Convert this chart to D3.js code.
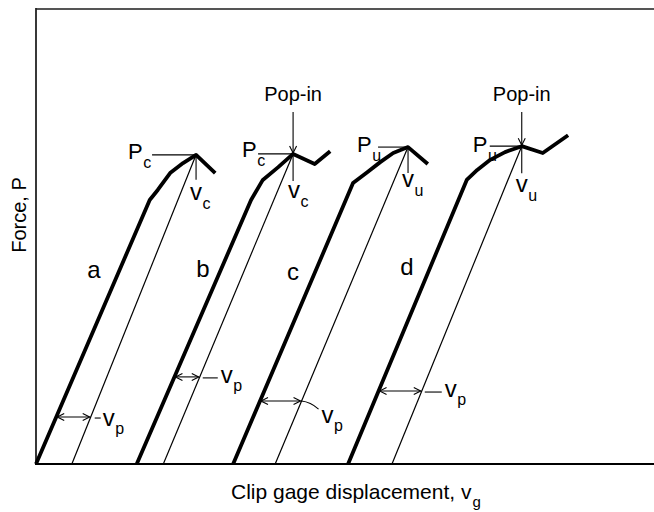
<!DOCTYPE html>
<html>
<head>
<meta charset="utf-8">
<script src="https://cdn.jsdelivr.net/npm/d3@7"></script>
<style>
  body { margin: 0; background: #fff; }
  text { font-family: Arial, "Liberation Sans", sans-serif; fill: #000; }
</style>
</head>
<body>
<div id="chart"></div>
<script>

// record curves a-d, in arbitrary units (x: 0-100, y: 0-100)
var curveNames = ["a", "b", "c", "d"];

var xA = [0, 18.4, 19.7, 21.7, 23.8, 25.9, 29.0];
var yA = [0, 57.9, 60.1, 63.8, 66.0, 67.8, 63.8];

var xB = [16.3, 34.8, 36.7, 39.2, 41.6, 45.1, 47.6];
var yB = [0, 57.9, 62.3, 65.1, 68.0, 65.8, 68.6];

var xC = [31.9, 51.3, 53.6, 55.7, 57.8, 60.2, 63.4];
var yC = [0, 61.6, 64.0, 66.2, 68.2, 69.5, 65.8];

var xD = [50.5, 69.7, 71.4, 73.5, 75.9, 78.6, 82.0, 86.1];
var yD = [0, 62.3, 64.5, 66.7, 68.4, 69.7, 68.2, 72.1];

// which point is the max force, where the unloading line meets zero force
var peakIndex = [5, 4, 5, 5];
var unloadFoot = [5.8, 20.6, 38.7, 57.6];

// force level of the plastic displacement arrows
var vpLevel = [10.3, 19.1, 13.8, 16.0];

var forceSub = ["c", "c", "u", "u"];
var popIn = [false, true, false, true];

var xLabel = "Clip gage displacement, v";
var xLabelSub = "g";
var yLabel = "Force, P";

// chart properties
var width = 654, height = 512;
var plot = { left: 36, right: 654, top: 8, bottom: 464 };

// label offsets from the peak / arrow end (pixels)
var peakLayout = [
    { pdx: -68, pdy: 4, ldx: -44, vdx: -6, vdy: 45, vlen: 25 },
    { pdx: -51, pdy: 3, ldx: -35, vdx: -5, vdy: 44, vlen: 27 },
    { pdx: -51, pdy: 5, ldx: -30, vdx: -6, vdy: 40, vlen: 26 },
    { pdx: -49, pdy: 6, ldx: -32, vdx: -6, vdy: 46, vlen: 27 }
];
var vpLayout = [
    { d0: 4, d1: 10, tx: 12, ty: 9, curved: false },
    { d0: 3, d1: 18, tx: 21, ty: 6, curved: false },
    { d0: 0, d1: 0, tx: 20, ty: 22, curved: true },
    { d0: 3, d1: 20, tx: 23, ty: 6, curved: false }
];
var letterPos = [ { x: 94, y: 278 }, { x: 203, y: 277 }, { x: 293, y: 280 }, { x: 407, y: 275 } ];

var xScale = d3.scaleLinear().domain([0, 100]).range([plot.left, plot.right]);
var yScale = d3.scaleLinear().domain([0, 100]).range([plot.bottom, plot.top]);

var svg = d3.select("#chart").append("svg")
    .attr("width", width)
    .attr("height", height);

var defs = svg.append("defs");
defs.append("marker")
    .attr("id", "head")
    .attr("viewBox", "-9 -5 10 10")
    .attr("refX", 0)
    .attr("refY", 0)
    .attr("markerWidth", 10)
    .attr("markerHeight", 10)
    .attr("markerUnits", "userSpaceOnUse")
    .attr("orient", "auto-start-reverse")
    .append("path")
    .attr("d", "M-7,-3.5L0,0L-7,3.5")
    .attr("fill", "none")
    .attr("stroke", "#000")
    .attr("stroke-width", 1.1);

// frame: left, top, bottom (no right edge)
svg.append("line")
    .attr("x1", plot.left).attr("x2", plot.right)
    .attr("y1", plot.top + 1).attr("y2", plot.top + 1)
    .attr("stroke", "#555").attr("stroke-width", 2);
svg.append("line")
    .attr("x1", plot.left).attr("x2", plot.left)
    .attr("y1", plot.top).attr("y2", plot.bottom)
    .attr("stroke", "#222").attr("stroke-width", 1.8);
svg.append("line")
    .attr("x1", plot.left - 1).attr("x2", plot.right)
    .attr("y1", plot.bottom).attr("y2", plot.bottom)
    .attr("stroke", "#000").attr("stroke-width", 1.8);

var lineGen = d3.line()
    .x(function(d) { return xScale(d[0]); })
    .y(function(d) { return yScale(d[1]); });

var curves = [[xA, yA], [xB, yB], [xC, yC], [xD, yD]].map(function(c) {
    return d3.zip(c[0], c[1]);
});

// x where a segment p->q reaches force level f
function atLevel(p, q, f) {
    return p[0] + (q[0] - p[0]) * (f - p[1]) / (q[1] - p[1]);
}

function subText(g, x, y, main, sub, size, subSize, subDy) {
    var t = g.append("text")
        .attr("x", x)
        .attr("y", y)
        .style("font-size", size + "px");
    t.append("tspan").text(main);
    t.append("tspan")
        .attr("dy", subDy)
        .attr("dx", 0.5)
        .style("font-size", subSize + "px")
        .text(sub);
    return t;
}

curves.forEach(function(pts, i) {
    var g = svg.append("g");
    var peak = pts[peakIndex[i]];
    var px = xScale(peak[0]), py = yScale(peak[1]);
    var foot = [unloadFoot[i], 0];
    var lay = peakLayout[i];

    // unloading line
    g.append("path")
        .attr("d", lineGen([foot, peak]))
        .attr("stroke", "#000")
        .attr("stroke-width", 1.2)
        .attr("fill", "none");

    // test record
    g.append("path")
        .attr("d", lineGen(pts))
        .attr("stroke", "#000")
        .attr("stroke-width", 3.8)
        .attr("stroke-linejoin", "round")
        .attr("fill", "none");

    // force marker
    g.append("line")
        .attr("x1", px + lay.ldx).attr("x2", px)
        .attr("y1", py).attr("y2", py)
        .attr("stroke", "#000").attr("stroke-width", 1.1);
    subText(g, px + lay.pdx, py + lay.pdy, "P", forceSub[i], 22, 16, 9);

    // displacement marker
    g.append("line")
        .attr("x1", px).attr("x2", px)
        .attr("y1", py).attr("y2", py + lay.vlen)
        .attr("stroke", "#000").attr("stroke-width", 1.1);
    subText(g, px + lay.vdx, py + lay.vdy, "v", forceSub[i], 24, 16, 9);

    // pop-in
    if (popIn[i]) {
        g.append("line")
            .attr("x1", px).attr("x2", px)
            .attr("y1", 112).attr("y2", py - 1)
            .attr("stroke", "#000").attr("stroke-width", 1.1)
            .attr("marker-end", "url(#head)");
        g.append("text")
            .attr("x", px)
            .attr("y", 101)
            .attr("text-anchor", "middle")
            .style("font-size", "20px")
            .text("Pop-in");
    }

    // curve letter
    g.append("text")
        .attr("x", letterPos[i].x)
        .attr("y", letterPos[i].y)
        .attr("text-anchor", "middle")
        .style("font-size", "24px")
        .text(curveNames[i]);

    // plastic displacement arrow
    var f = vpLevel[i];
    var xl = xScale(atLevel(pts[0], pts[1], f));
    var xr = xScale(atLevel(foot, peak, f));
    var ya = yScale(f);
    var vl = vpLayout[i];
    g.append("line")
        .attr("x1", xl + 1).attr("x2", xr - 1)
        .attr("y1", ya).attr("y2", ya)
        .attr("stroke", "#000").attr("stroke-width", 1.1)
        .attr("marker-start", "url(#head)")
        .attr("marker-end", "url(#head)");
    if (vl.curved) {
        g.append("path")
            .attr("d", "M" + xr + "," + ya + "Q" + (xr + 9) + "," + (ya + 1) + " " + (xr + 17) + "," + (ya + 8))
            .attr("stroke", "#000").attr("stroke-width", 1.1)
            .attr("fill", "none");
    } else {
        g.append("line")
            .attr("x1", xr + vl.d0).attr("x2", xr + vl.d1)
            .attr("y1", ya + 1).attr("y2", ya + 1)
            .attr("stroke", "#000").attr("stroke-width", 1.1);
    }
    subText(g, xr + vl.tx, ya + vl.ty, "v", "p", 24, 16, 8);
});

// x axis label
var xl = svg.append("text")
    .attr("x", 231)
    .attr("y", 499)
    .style("font-size", "21px");
xl.append("tspan").text(xLabel);
xl.append("tspan")
    .attr("dy", 8)
    .attr("dx", 1)
    .style("font-size", "15px")
    .text(xLabelSub);

// y axis label
svg.append("text")
    .attr("transform", "rotate(-90)")
    .attr("x", -215)
    .attr("y", 26)
    .attr("text-anchor", "middle")
    .style("font-size", "20px")
    .text(yLabel);

</script>
</body>
</html>
